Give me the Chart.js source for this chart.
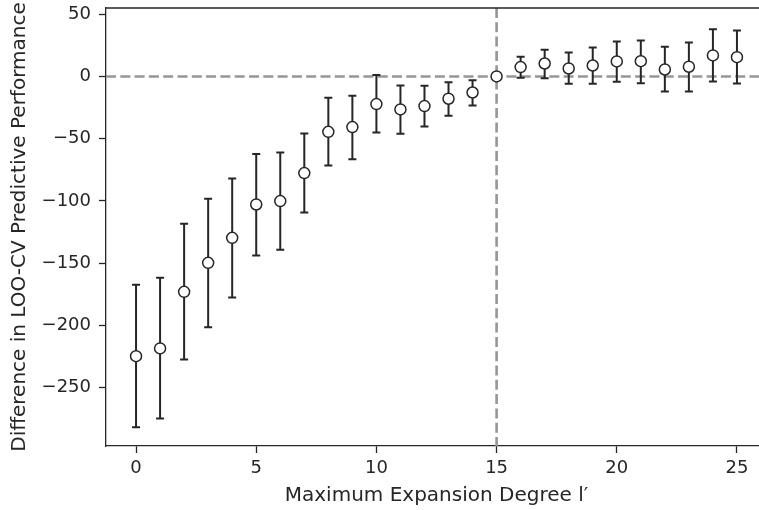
<!DOCTYPE html>
<html>
<head>
<meta charset="utf-8">
<script src="https://cdn.jsdelivr.net/npm/chart.js@4"></script>
<style>
  html, body { margin: 0; padding: 0; background: #ffffff; overflow: hidden; }
  #wrap { width: 775px; height: 510px; }
</style>
</head>
<body>
<div id="wrap"><canvas id="c" width="775" height="510"></canvas></div>
<script>
// ---- data ----
const degrees = [0,1,2,3,4,5,6,7,8,9,10,11,12,13,14,15,16,17,18,19,20,21,22,23,24,25];
const meanDiff = [-224.8,-218.6,-173.1,-149.8,-129.7,-102.9,-100.2,-77.7,-44.5,-40.7,-22.2,-26.5,-23.8,-17.9,-12.9,0,7.5,10.4,6.4,8.8,12.1,12.3,5.6,7.8,16.9,15.5];
const upperErr = [-167.5,-161.8,-118.4,-98.3,-82.0,-62.4,-61.1,-45.8,-17.1,-15.5,1.1,-7.2,-7.5,-4.6,-3.0,0,15.8,21.4,19.3,23.3,28.1,28.9,23.9,27.3,38.0,37.0];
const lowerErr = [-281.9,-274.9,-227.5,-201.5,-177.7,-143.9,-139.3,-109.3,-71.5,-66.5,-45.0,-46.1,-40.2,-31.6,-23.3,0,-1.1,-1.4,-5.9,-5.9,-4.3,-5.4,-12.1,-12.1,-4.0,-5.6];
const xTickValues = [0,5,10,15,20,25];
const yTickValues = [-250,-200,-150,-100,-50,0,50];
const refX = 15;
const refY = 0;
const xLabel = "Maximum Expansion Degree l\u2032";
const yLabel = "Difference in LOO-CV Predictive Performance";

const ink = '#262626';
const dashColor = '#969696';

const fmt = v => (v < 0 ? '\u2212' + Math.abs(v) : String(v));

const refLinesPlugin = {
  id: 'refLines',
  beforeDatasetsDraw(chart) {
    const {ctx, chartArea: a, scales: {x, y}} = chart;
    ctx.save();
    ctx.beginPath();
    ctx.rect(a.left, a.top, a.right - a.left, a.bottom - a.top);
    ctx.clip();
    ctx.strokeStyle = dashColor;
    ctx.lineWidth = 2.6;
    ctx.setLineDash([10, 4.3]);
    const py = y.getPixelForValue(refY);
    ctx.beginPath(); ctx.moveTo(a.left, py); ctx.lineTo(a.right, py); ctx.stroke();
    const px = x.getPixelForValue(refX);
    ctx.beginPath(); ctx.moveTo(px, a.top); ctx.lineTo(px, a.bottom); ctx.stroke();
    ctx.setLineDash([]);
    // error bars
    ctx.strokeStyle = ink;
    ctx.lineWidth = 2;
    for (let i = 0; i < degrees.length; i++) {
      if (upperErr[i] === lowerErr[i]) continue;
      const cx = x.getPixelForValue(degrees[i]);
      const yt = y.getPixelForValue(upperErr[i]);
      const yb = y.getPixelForValue(lowerErr[i]);
      ctx.beginPath();
      ctx.moveTo(cx, yt); ctx.lineTo(cx, yb);
      ctx.moveTo(cx - 4, yt); ctx.lineTo(cx + 4, yt);
      ctx.moveTo(cx - 4, yb); ctx.lineTo(cx + 4, yb);
      ctx.stroke();
    }
    ctx.restore();
  },
  afterDraw(chart) {
    const {ctx, chartArea: a} = chart;
    ctx.save();
    ctx.strokeStyle = ink;
    ctx.lineWidth = 1.3;
    ctx.beginPath();
    ctx.moveTo(a.left, a.top); ctx.lineTo(a.right, a.top); ctx.lineTo(a.right, a.bottom);
    ctx.stroke();
    ctx.restore();
  }
};

new Chart(document.getElementById('c'), {
  type: 'scatter',
  data: {
    datasets: [{
      data: degrees.map((d, i) => ({x: d, y: meanDiff[i]})),
      pointRadius: 5.5,
      pointHoverRadius: 5.5,
      pointBackgroundColor: '#ffffff',
      pointBorderColor: ink,
      pointBorderWidth: 1.5,
      showLine: false
    }]
  },
  options: {
    responsive: false,
    animation: false,
    devicePixelRatio: 1,
    layout: { padding: { top: 8, right: 8, left: 0, bottom: 0 } },
    plugins: { legend: { display: false }, tooltip: { enabled: false } },
    scales: {
      x: {
        type: 'linear',
        min: -1.25,
        max: 26.25,
        afterBuildTicks: s => { s.ticks = xTickValues.map(v => ({value: v})); },
        afterFit: s => { s.height = 64; s.paddingLeft = 0; s.paddingRight = 0; },
        grid: { display: true, drawOnChartArea: false, drawTicks: true, tickLength: 7, tickColor: ink, tickWidth: 1.3 },
        border: { display: true, color: ink, width: 1.3 },
        ticks: { color: ink, padding: 5, maxRotation: 0, font: { family: 'DejaVu Sans', size: 18, lineHeight: 1.2 }, callback: v => fmt(v) },
        title: { display: true, text: xLabel, color: ink, padding: { top: 0, bottom: 2 }, font: { family: 'DejaVu Sans', size: 20, lineHeight: 1.2 } }
      },
      y: {
        type: 'linear',
        min: -297,
        max: 55,
        afterBuildTicks: s => { s.ticks = yTickValues.map(v => ({value: v})); },
        afterFit: s => { s.width = 106; s.paddingTop = 0; s.paddingBottom = 0; },
        grid: { display: true, drawOnChartArea: false, drawTicks: true, tickLength: 7, tickColor: ink, tickWidth: 1.3 },
        border: { display: true, color: ink, width: 1.3 },
        ticks: { color: ink, padding: 8, font: { family: 'DejaVu Sans', size: 18, lineHeight: 1.2 }, callback: v => fmt(v) },
        title: { display: true, text: yLabel, color: ink, padding: { top: 8, bottom: 0 }, font: { family: 'DejaVu Sans', size: 20, lineHeight: 1.2 } }
      }
    }
  },
  plugins: [refLinesPlugin]
});
</script>
</body>
</html>
